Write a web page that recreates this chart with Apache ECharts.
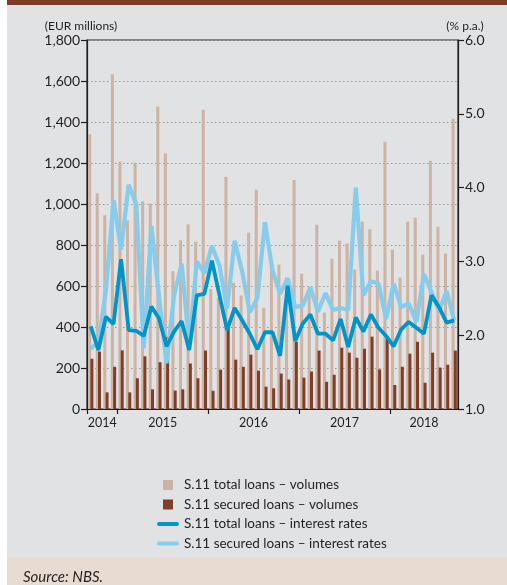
<!DOCTYPE html>
<html>
<head>
<meta charset="utf-8">
<title>S.11 loans – volumes and interest rates</title>
<script src="https://cdn.jsdelivr.net/npm/echarts@6/dist/echarts.min.js"></script>
<style>
  html, body { margin: 0; padding: 0; background: #fff; }
  #chart { width: 507px; height: 585px; }
</style>
</head>
<body>
<div id="chart"></div>
<script>
var months = [
  '2014-09', '2014-10', '2014-11', '2014-12',
  '2015-01', '2015-02', '2015-03', '2015-04', '2015-05', '2015-06', '2015-07', '2015-08', '2015-09', '2015-10', '2015-11', '2015-12',
  '2016-01', '2016-02', '2016-03', '2016-04', '2016-05', '2016-06', '2016-07', '2016-08', '2016-09', '2016-10', '2016-11', '2016-12',
  '2017-01', '2017-02', '2017-03', '2017-04', '2017-05', '2017-06', '2017-07', '2017-08', '2017-09', '2017-10', '2017-11', '2017-12',
  '2018-01', '2018-02', '2018-03', '2018-04', '2018-05', '2018-06', '2018-07', '2018-08', '2018-09'
];
// EUR millions
var totalVolumes = [1340, 1052, 945, 1633, 1206, 920, 1202, 1013, 1002, 1476, 1247, 672, 823, 901, 816, 1460,
  585, 543, 1133, 616, 553, 860, 1070, 494, 700, 704, 640, 1117, 660, 580, 899, 470, 733, 821, 807, 680,
  914, 876, 675, 1304, 777, 641, 914, 933, 753, 1211, 889, 758, 1416];
var securedVolumes = [245, 280, 81, 206, 286, 81, 150, 257, 96, 228, 352, 90, 96, 222, 150, 285,
  89, 192, 400, 241, 206, 265, 187, 109, 101, 173, 144, 328, 153, 183, 285, 133, 167, 299, 275, 250,
  294, 353, 193, 341, 117, 206, 270, 328, 128, 275, 202, 216, 285];
// % p.a.
var totalRates = [2.12, 1.80, 2.25, 2.15, 3.03, 2.07, 2.06, 1.99, 2.39, 2.23, 1.85, 2.05, 2.19, 1.80, 2.54, 2.56,
  3.01, 2.54, 2.07, 2.37, 2.20, 2.02, 1.81, 2.04, 2.04, 1.72, 2.67, 1.92, 2.16, 2.28, 2.02, 2.02, 1.93, 2.22, 1.84, 2.24,
  2.05, 2.28, 2.10, 1.99, 1.85, 2.08, 2.18, 2.10, 2.02, 2.54, 2.38, 2.17, 2.20];
var securedRates = [1.82, 1.90, 2.61, 3.83, 3.16, 4.04, 3.78, 1.82, 3.48, 2.54, 1.62, 2.54, 2.97, 1.85, 3.00, 2.84,
  3.21, 2.94, 2.36, 3.28, 2.86, 2.31, 2.50, 3.53, 2.88, 2.56, 2.77, 2.38, 2.40, 2.65, 2.32, 2.57, 2.34, 2.37, 2.34, 4.00,
  2.54, 2.73, 2.70, 2.22, 2.70, 2.38, 2.43, 2.18, 2.83, 2.58, 2.33, 2.60, 2.20];

var seriesNames = [
  'S.11 total loans – volumes',
  'S.11 secured loans – volumes',
  'S.11 total loans – interest rates',
  'S.11 secured loans – interest rates'
];

// year ticks at year boundaries, year labels in the middle of each year
var yearTicks = [], yearMids = [], yearNames = [];
var start = 0;
for (var i = 1; i <= months.length; i++) {
  if (i === months.length || months[i].slice(0, 4) !== months[start].slice(0, 4)) {
    yearTicks.push(start);
    yearMids.push((start + i) / 2);
    yearNames.push(months[start].slice(0, 4));
    start = i;
  }
}

var FONT = 'Lato, "Noto Sans", sans-serif';
var INK = '#231f20';
var cTan = '#cdb3a3', cBrown = '#7e3e28', cBlue = '#0094c8', cLight = '#87ccea';

var chart = echarts.init(document.getElementById('chart'), null, { renderer: 'canvas' });

var option = {
  backgroundColor: '#e1e2e4',
  animation: false,
  textStyle: { fontFamily: FONT, color: INK },
  graphic: [
    { type: 'rect', shape: { x: 0, y: 0, width: 7, height: 585 }, style: { fill: '#ffffff' } },
    { type: 'rect', shape: { x: 7, y: 0, width: 500, height: 5 }, style: { fill: '#7b3d26' } },
    { type: 'rect', shape: { x: 7, y: 557, width: 500, height: 28 }, style: { fill: '#e8dbd1' } },
    { type: 'text', x: 81, y: 26, style: { text: '(EUR millions)', font: '12px ' + FONT, fill: INK, textAlign: 'center', textVerticalAlign: 'middle' } },
    { type: 'text', x: 465, y: 26, style: { text: '(% p.a.)', font: '12px ' + FONT, fill: INK, textAlign: 'center', textVerticalAlign: 'middle' } },
    { type: 'text', x: 23, y: 577, style: { text: 'Source: NBS.', font: 'italic 15px ' + FONT, fill: INK, textAlign: 'left', textVerticalAlign: 'middle' } }
  ],
  grid: {
    left: 87, right: 49, top: 40, bottom: 176,
    show: true, borderColor: INK, borderWidth: 1.2, backgroundColor: 'transparent'
  },
  legend: {
    orient: 'vertical',
    left: 152, top: 473,
    itemWidth: 22, itemHeight: 10, itemGap: 5.5,
    textStyle: { fontFamily: FONT, fontSize: 13.5, color: INK },
    data: [
      { name: seriesNames[0], icon: 'path://M0,0H10V10H0Z', itemStyle: { color: cTan, borderWidth: 0 } },
      { name: seriesNames[1], icon: 'path://M0,0H10V10H0Z', itemStyle: { color: cBrown, borderWidth: 0 } },
      { name: seriesNames[2], icon: 'path://M2,0H20A2,2 0 0 1 20,4H2A2,2 0 0 1 2,0Z', itemStyle: { color: cBlue, borderWidth: 0 } },
      { name: seriesNames[3], icon: 'path://M2,0H20A2,2 0 0 1 20,4H2A2,2 0 0 1 2,0Z', itemStyle: { color: cLight, borderWidth: 0 } }
    ]
  },
  xAxis: [
    {
      type: 'category', data: months, show: false, boundaryGap: true
    },
    {
      type: 'value', min: 0, max: months.length, position: 'bottom',
      axisLine: { show: true, lineStyle: { color: INK, width: 1.2 } },
      axisTick: { show: true, length: 5, customValues: yearTicks, lineStyle: { color: INK, width: 1.2 } },
      axisLabel: {
        customValues: yearMids, margin: 7, fontSize: 12.5, color: INK, fontFamily: FONT,
        formatter: function (v) { return yearNames[yearMids.indexOf(v)]; }
      },
      splitLine: { show: false }
    }
  ],
  yAxis: [
    {
      type: 'value', min: 0, max: 1800, interval: 200, position: 'left',
      axisLine: { show: true, lineStyle: { color: INK, width: 1.2 } },
      axisTick: { show: true, length: 6, lineStyle: { color: INK, width: 1.2 } },
      axisLabel: {
        margin: 7, fontSize: 14, color: INK, fontFamily: FONT,
        formatter: function (v) { return v.toLocaleString('en-US'); }
      },
      splitLine: { show: true, lineStyle: { color: '#999999', width: 1, type: [1.5, 2.5] } }
    },
    {
      type: 'value', min: 1, max: 6, interval: 1, position: 'right',
      axisLine: { show: true, lineStyle: { color: INK, width: 1.2 } },
      axisTick: { show: true, length: 6, lineStyle: { color: INK, width: 1.2 } },
      axisLabel: {
        margin: 7, fontSize: 14, color: INK, fontFamily: FONT,
        formatter: function (v) { return v.toFixed(1); }
      },
      splitLine: { show: false }
    }
  ],
  series: [
    {
      name: seriesNames[0], type: 'bar', xAxisIndex: 0, yAxisIndex: 0,
      data: totalVolumes, barWidth: 3, barGap: '-25%',
      itemStyle: { color: cTan }
    },
    {
      name: seriesNames[1], type: 'bar', xAxisIndex: 0, yAxisIndex: 0,
      data: securedVolumes, barWidth: 3, barGap: '-25%',
      itemStyle: { color: cBrown }
    },
    {
      name: seriesNames[3], type: 'line', xAxisIndex: 0, yAxisIndex: 1,
      data: securedRates, showSymbol: false, symbol: 'none',
      lineStyle: { color: cLight, width: 4.2 }, itemStyle: { color: cLight }
    },
    {
      name: seriesNames[2], type: 'line', xAxisIndex: 0, yAxisIndex: 1,
      data: totalRates, showSymbol: false, symbol: 'none',
      lineStyle: { color: cBlue, width: 3.8 }, itemStyle: { color: cBlue }
    }
  ]
};

chart.setOption(option);
</script>
</body>
</html>
